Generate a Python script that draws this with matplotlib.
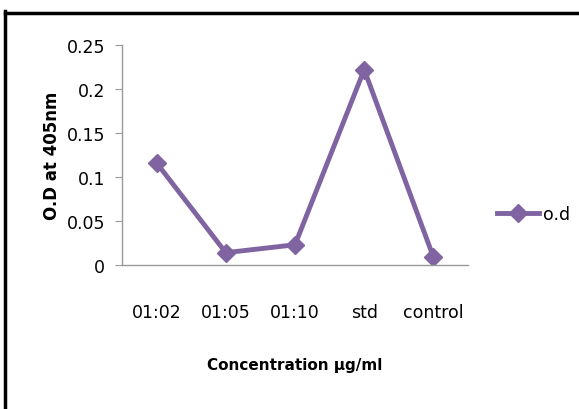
import matplotlib.pyplot as plt
from matplotlib.lines import Line2D

categories = ['01:02', '01:05', '01:10', 'std', 'control']
od_values = [0.116, 0.014, 0.023, 0.222, 0.009]
y_ticks = [0, 0.05, 0.1, 0.15, 0.2, 0.25]
y_tick_labels = ['0', '0.05', '0.1', '0.15', '0.2', '0.25']

purple = '#8064A2'

fig = plt.figure(figsize=(5.79, 4.10), dpi=100)
ax = fig.add_axes([122 / 579, 1 - 266 / 410, 346 / 579, 220 / 410])

x = list(range(len(categories)))
ax.plot(x, od_values, color=purple, linewidth=3.5, marker='D',
        markersize=9, label='o.d')

ax.set_xlim(-0.5, len(categories) - 0.5)
ax.set_ylim(0, 0.25)
ax.set_yticks(y_ticks)
ax.set_yticklabels(y_tick_labels, fontsize=12.5)
ax.set_xticks(x)
ax.set_xticklabels(categories, fontsize=12.5)

for side in ['top', 'right']:
    ax.spines[side].set_visible(False)
for side in ['left', 'bottom']:
    ax.spines[side].set_color('#999999')
    ax.spines[side].set_linewidth(1)
ax.tick_params(axis='y', direction='out', length=5, color='#999999', pad=7)
ax.tick_params(axis='x', length=0, pad=27)

ax.set_ylabel('O.D at 405nm', fontsize=12, fontweight='bold', labelpad=4)
ax.set_xlabel('Concentration \u00b5g/ml', fontsize=11,
              fontweight='bold', labelpad=26)

ax.legend(loc='center left', bbox_to_anchor=(1.065, 0.23), frameon=False,
          handlelength=2.4, prop={'size': 12.5}, handletextpad=0.2,
          borderaxespad=0)

# outer frame lines
fig.add_artist(Line2D([5 / 579, 1], [1 - 14 / 410, 1 - 14 / 410],
                      color='black', linewidth=2.5, transform=fig.transFigure))
fig.add_artist(Line2D([5 / 579, 5 / 579], [0, 1 - 12 / 410],
                      color='black', linewidth=2.5, transform=fig.transFigure))

fig.savefig('out.png', dpi=100)
